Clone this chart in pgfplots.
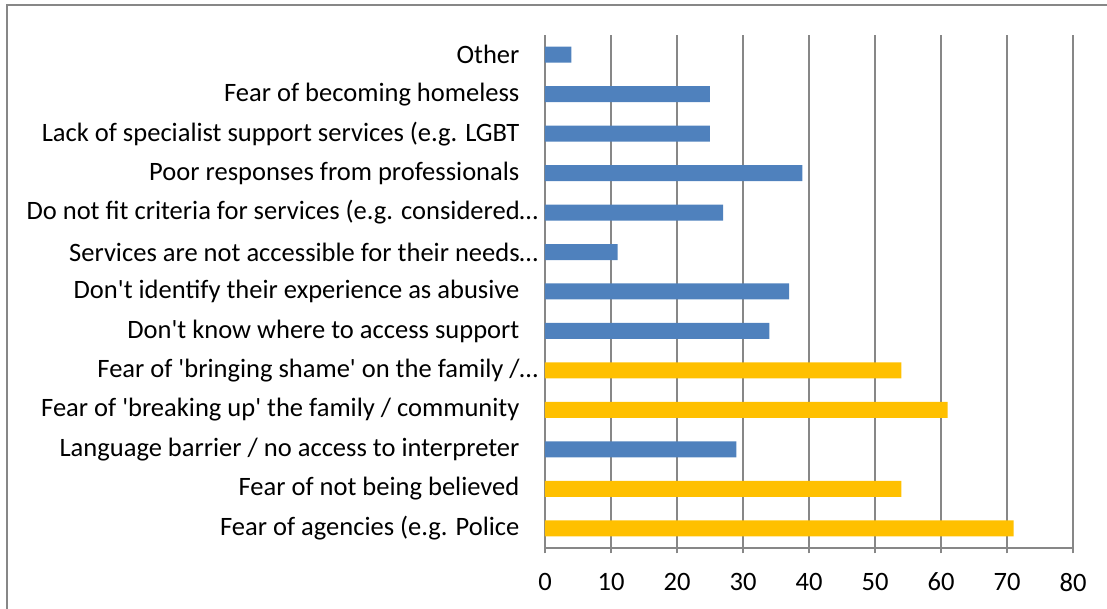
\documentclass[border=0pt]{standalone}
\usepackage{fontspec}
\setmainfont{Carlito}
\usepackage{pgfplots}
\pgfplotsset{compat=1.18}
\definecolor{barblue}{HTML}{4F81BD}
\definecolor{barorange}{HTML}{FFC000}
\definecolor{gridgray}{HTML}{878787}
\begin{document}
\fontsize{19.9}{24}\selectfont
\begin{tikzpicture}
\path[use as bounding box] (0,0) rectangle (830.25pt,456.75pt);
\draw[gridgray, line width=1.5pt] (5.25pt,-20pt) -- (5.25pt,453pt) -- (850pt,453pt);
\begin{axis}[
  at={(408.75pt,45.75pt)}, anchor=south west,
  scale only axis, width=396pt, height=384.75pt,
  xbar, bar width=12pt,
  xmin=0, xmax=80, xtick={0,10,...,80},
  ymin=-0.5, ymax=12.5,
  ytick={0,...,12},
  yticklabels={
    Fear of agencies (e.g. Police,
    Fear of not being believed,
    Language barrier / no access to interpreter,
    Fear of \textquotesingle breaking up\textquotesingle{} the family / community,
    Fear of \textquotesingle bringing shame\textquotesingle{} on the family /…\kern-14pt\relax,
    Don\textquotesingle t know where to access support,
    Don\textquotesingle t identify their experience as abusive,
    Services are not accessible for their needs…\kern-14pt\relax,
    Do not fit criteria for services (e.g. considered…\kern-14pt\relax,
    Poor responses from professionals,
    Lack of specialist support services (e.g. LGBT,
    Fear of becoming homeless,
    Other},
  minor ytick={-0.5,0.5,...,12.5},
  major tick length=4pt,
  minor tick length=4pt,
  tick align=outside,
  xtick style={draw=gridgray, line width=1.5pt},
  ytick style={draw=none},
  minor tick style={draw=gridgray, line width=1.5pt},
  axis lines*=left,
  axis line style={draw=gridgray, line width=1.5pt},
  xmajorgrids, grid style={draw=gridgray, line width=1.5pt},
  /pgf/number format/assume math mode=true,
  ticklabel style={font=\fontsize{19.9}{24}\selectfont},
  yticklabel style={anchor=east, inner sep=0pt, xshift=-15pt},
  xticklabel style={anchor=north, inner sep=0pt, yshift=-14.5pt},
  clip=false,
]
\addplot[draw=none, fill=barblue, bar shift=0pt] coordinates {
  (29,2) (34,5) (37,6) (11,7) (27,8) (39,9) (25,10) (25,11) (4,12)
};
\addplot[draw=none, fill=barorange, bar shift=0pt] coordinates {
  (71,0) (54,1) (61,3) (54,4)
};
\end{axis}
\end{tikzpicture}
\end{document}
